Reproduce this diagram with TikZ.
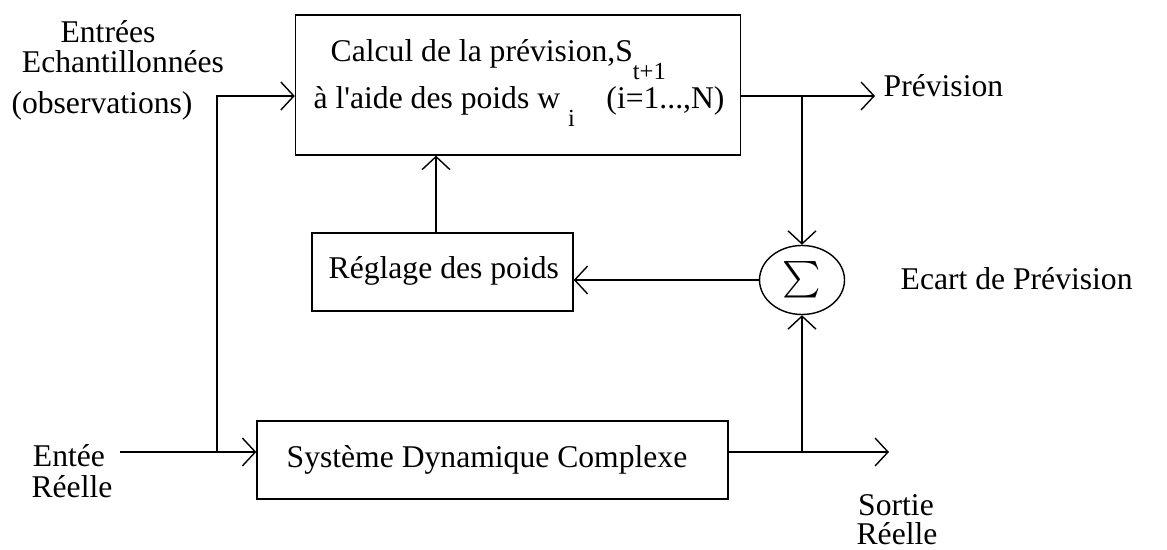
\documentclass[tikz,border=0pt]{standalone}
\usepackage{amsmath}
\usepackage{exscale}
\usepackage{fontspec}
\setmainfont{Liberation Serif}
\usetikzlibrary{arrows.meta,shapes.geometric}

\newcommand{\indice}[1]{\raisebox{-1.2ex}{\fontsize{14}{14}\selectfont #1}}

\begin{document}
\begin{tikzpicture}[font=\fontsize{18}{22}\selectfont, line width=0.8pt,
  >={Straight Barb[length=2.6mm,width=5.6mm]},
  bloc/.style={draw,rectangle,inner sep=0pt},
  txt/.style={anchor=base,inner sep=0pt},
  txtl/.style={anchor=base west,inner sep=0pt}]
  \useasboundingbox (0,0) rectangle (23.34,11);
  % blocs
  \node[bloc,minimum width=8.9cm,minimum height=2.8cm] (calc) at (10.36,9.3) {};
  \node[bloc,minimum width=5.22cm,minimum height=1.56cm] (regl) at (8.85,5.56) {};
  \node[bloc,minimum width=9.42cm,minimum height=1.56cm] (sys) at (9.85,1.8) {};
  \node[draw,ellipse,minimum width=1.7cm,minimum height=1.38cm,inner sep=0pt] (sig) at (16.04,5.4)
    {\fontsize{20}{20}\selectfont$\sum$};
  \node[txtl] (calcA) at (6.6,9.76) {Calcul de la prévision,S\indice{t+1}};
  \node[txtl] (calcB) at (6.26,8.82) {à l\textquotesingle aide des poids w\ \indice{i}\quad (i=1...,N)};
  \node[txtl] (reglT) at (6.56,5.42) {Réglage des poids};
  \node[txt] (sysT) at (9.74,1.64) {Système Dynamique Complexe};
  % textes
  \node[txt] (ent1) at (2.16,10.15) {Entrées};
  \node[txt] (ent2) at (2.46,9.54) {Echantillonnées};
  \node[txt] (obs) at (2.04,8.72) {(observations)};
  \node[txt] (ree1) at (1.38,1.66) {Entée};
  \node[txt] (ree2) at (1.44,1.04) {Réelle};
  \node[txtl] (prevT) at (17.66,9.06) {Prévision};
  \node[txtl] (ecart) at (18.0,5.2) {Ecart de Prévision};
  \node[txt] (sor1) at (17.92,0.68) {Sortie};
  \node[txt] (sor2) at (17.94,0.1) {Réelle};
  % liaisons
  \coordinate (entin) at (2.4,1.96);
  \coordinate (split) at (4.34,1.96);
  \coordinate (obsin) at (4.34,9.08);
  \coordinate (ptop) at (16.04,9.08);
  \coordinate (pbot) at (16.04,1.96);
  \coordinate (prev) at (17.5,9.08);
  \coordinate (sort) at (17.78,1.96);
  \coordinate (reup) at (8.72,0);
  \draw (entin) -- (split);
  \draw[->] (split) -- (split -| sys.west);
  \draw[->] (split) -- (obsin) -- (obsin -| calc.west);
  \draw[->] (obsin -| calc.east) -- (prev);
  \draw[->] (split -| sys.east) -- (sort);
  \draw[->] (ptop) -- (sig.north);
  \draw[->] (pbot) -- (sig.south);
  \draw[->] (sig.west) -- (regl.east |- sig.west);
  \draw[->] (regl.north -| reup) -- (calc.south -| reup);
\end{tikzpicture}
\end{document}
